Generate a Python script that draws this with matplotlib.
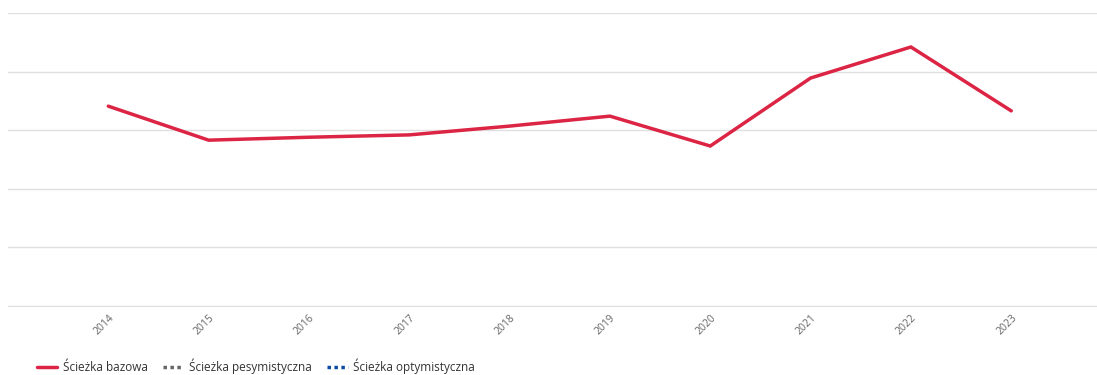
import matplotlib
matplotlib.use("Agg")
import matplotlib.pyplot as plt
import numpy as np

# dane
years = [2014, 2015, 2016, 2017, 2018, 2019, 2020, 2021, 2022, 2023]
bazowa = [3.41, 2.83, 2.88, 2.92, 3.07, 3.24, 2.73, 3.89, 4.42, 3.33]
pesymistyczna = [np.nan] * len(years)
optymistyczna = [np.nan] * len(years)
labels = ["Ścieżka bazowa", "Ścieżka pesymistyczna", "Ścieżka optymistyczna"]

plt.rcParams["font.family"] = ["Open Sans", "DejaVu Sans"]

fig = plt.figure(figsize=(10.97, 3.75), dpi=100)
ax = fig.add_axes([8 / 1097, 69 / 375, 1089 / 1097, 293 / 375])

ax.plot(years, bazowa, color="#dc2544", lw=2.5, solid_capstyle="round",
        solid_joinstyle="miter", label=labels[0])
ax.plot(years, pesymistyczna, color="#666666", lw=2.5, ls=(0, (1, 1)), label=labels[1])
ax.plot(years, optymistyczna, color="#0c4da2", lw=2.5, ls=(0, (1, 1)), label=labels[2])

ax.set_xlim(2013.0, 2023.855)
ax.set_ylim(0, 5)
ax.set_yticks(np.arange(0, 6, 1))
ax.set_yticklabels([])
ax.tick_params(axis="y", length=0)
ax.grid(axis="y", color="#e0e0e0", lw=1)
ax.set_axisbelow(True)

ax.set_xticks(years)
ax.set_xticklabels([str(y) for y in years], rotation=45, ha="right",
                   rotation_mode="anchor", fontsize=7.5, color="#666666")
ax.tick_params(axis="x", length=0, pad=5)
for s in ["top", "right", "left"]:
    ax.spines[s].set_visible(False)
ax.spines["bottom"].set_color("#e0e0e0")

fig.legend(loc="lower left", bbox_to_anchor=(0.024, -0.025), ncol=3, frameon=False,
           fontsize=8.5, handlelength=1.7, columnspacing=1.3, handletextpad=0.5,
           labelcolor="#333333")

fig.savefig("out.png", dpi=100, facecolor="white")
